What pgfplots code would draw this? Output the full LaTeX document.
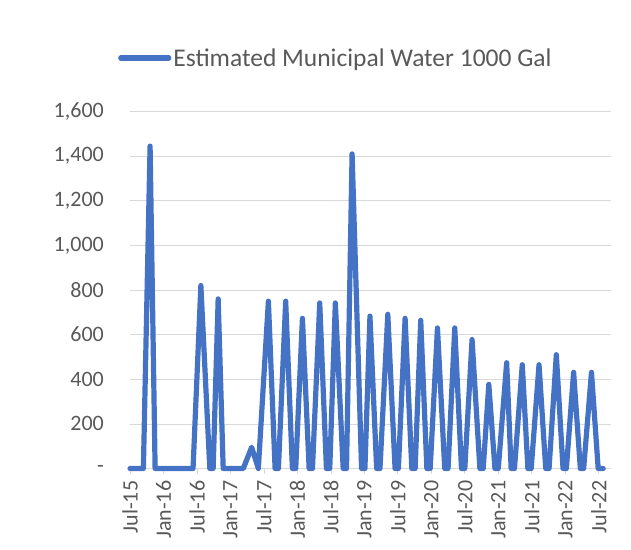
\documentclass[border=0pt]{standalone}
\usepackage{pgfplots}
\pgfplotsset{compat=1.18}
\usepackage{fontspec}
\setmainfont{Carlito}
\definecolor{cline}{HTML}{4472C4}
\definecolor{ctext}{HTML}{595959}
\definecolor{cgrid}{HTML}{D9D9D9}
\begin{document}
\begin{tikzpicture}
\begin{axis}[
  name=ax, at={(0,0)}, anchor=south west,
  scale only axis, width=481bp, height=357bp,
  xmin=0, xmax=86.2, ymin=0, ymax=1600,
  clip=false,
  axis x line*=bottom, axis y line*=left,
  x axis line style={draw=cgrid, line width=0.75bp},
  y axis line style={draw=none},
  ymajorgrids, grid style={draw=cgrid, line width=0.75bp},
  xtick={0,6,...,84},
  xticklabels={Jul-15,Jan-16,Jul-16,Jan-17,Jul-17,Jan-18,Jul-18,Jan-19,Jul-19,Jan-20,Jul-20,Jan-21,Jul-21,Jan-22,Jul-22},
  ytick={0,200,...,1600},
  yticklabels={-\hspace{9bp},200,400,600,800,{1,000},{1,200},{1,400},{1,600}},
  tick align=outside,
  major tick length=5bp,
  xtick style={draw=cgrid, line width=0.75bp},
  ytick style={draw=none},
  tick label style={font=\fontsize{22bp}{26bp}\selectfont, text=ctext},
  y tick label style={anchor=east, inner sep=0pt, xshift=-21bp},
  x tick label style={yshift=-7bp, rotate=90, anchor=east, inner sep=0pt},
  legend style={at={(axis description cs:-0.025,1.15)}, anchor=west, draw=none, fill=none, inner sep=0pt,
    font=\fontsize{25.5bp}{30bp}\selectfont, text=ctext},
  legend image code/.code={\draw[#1, line cap=round] (0bp,0bp) -- (48bp,0bp);},
]
\addplot[cline, line width=5.2bp, line join=round, line cap=round] coordinates {
(0,0) (2.4,0) (3.6,1445) (4.5,0) (11.3,0) (12.7,820) (14.3,0) (14.9,0) (15.8,760) (16.7,0) (20.3,0) (21.8,95) (23.0,0) (24.8,750)
(26.0,0) (26.6,0) (27.9,750) (29.1,0) (29.7,0) (30.9,673) (32.1,0) (32.7,0) (34.0,742) (35.2,0) (35.8,0) (36.8,742)
(38.2,0) (38.8,0) (39.8,1410) (41.5,0) (42.1,0) (43.0,683) (44.2,0) (44.8,0) (46.2,691) (47.5,0) (48.1,0) (49.3,673)
(50.5,0) (51.1,0) (52.1,664) (53.2,0) (53.8,0) (55.1,630) (56.4,0) (57.0,0) (58.2,630) (59.4,0) (60.0,0) (61.3,578)
(62.7,0) (63.3,0) (64.3,377) (65.4,0) (66.0,0) (67.5,474) (68.3,0) (68.9,0) (70.3,465) (71.3,0) (71.9,0) (73.3,465)
(74.5,0) (75.1,0) (76.4,510) (77.6,0) (78.2,0) (79.5,431) (80.7,0) (81.3,0) (82.7,431) (83.9,0) (84.8,0)
};
\addlegendentry{Estimated Municipal Water 1000 Gal}
\end{axis}
\pgfresetboundingbox
\path[use as bounding box] (-130bp,-81.5bp) rectangle (501bp,468.5bp);
\end{tikzpicture}
\end{document}
